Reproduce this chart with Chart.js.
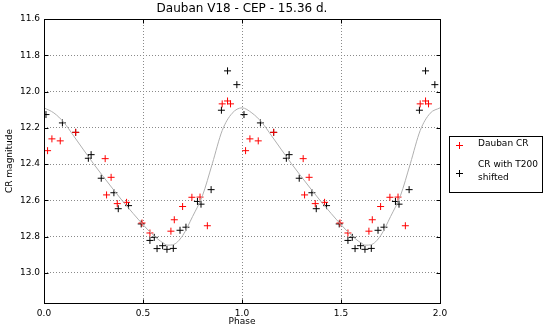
<!DOCTYPE html>
<html>
<head>
<meta charset="utf-8">
<script src="https://cdn.jsdelivr.net/npm/chart.js@4.4.1/dist/chart.umd.min.js"></script>
<style>
  html, body { margin: 0; padding: 0; background: #fff; }
  #wrap { width: 549px; height: 331px; }
</style>
</head>
<body>
<div id="wrap"><canvas id="lc"></canvas></div>
<script>
// Dauban photometry (one cycle, phase 0..1)
const redPhase = [0.018, 0.040, 0.082, 0.160, 0.309, 0.339, 0.316, 0.370, 0.417, 0.495,
                  0.535, 0.641, 0.658, 0.700, 0.747, 0.788, 0.825, 0.900, 0.927, 0.942];
const redMag   = [12.326, 12.261, 12.272, 12.225, 12.370, 12.473, 12.570, 12.618, 12.611, 12.725,
                  12.780, 12.770, 12.707, 12.634, 12.583, 12.582, 12.740, 12.068, 12.052, 12.068];

// T200 measurements, shifted
const blackPhase = [0.010, 0.093, 0.160, 0.224, 0.238, 0.289, 0.353, 0.375, 0.427, 0.491,
                    0.535, 0.557, 0.571, 0.599, 0.621, 0.653, 0.687, 0.717, 0.775, 0.793,
                    0.844, 0.896, 0.927, 0.974];
const blackMag   = [12.127, 12.173, 12.225, 12.368, 12.348, 12.478, 12.558, 12.646, 12.629, 12.730,
                    12.821, 12.804, 12.866, 12.850, 12.870, 12.865, 12.765, 12.748, 12.606, 12.621,
                    12.541, 12.103, 11.886, 11.962];

// fitted light curve, sampled over one cycle
const curvePhase = [0.00, 0.05, 0.10, 0.15, 0.20, 0.25, 0.30, 0.35, 0.40, 0.45, 0.50,
                    0.55, 0.60, 0.625, 0.65, 0.70, 0.75, 0.80, 0.85, 0.90, 0.95];
const curveMag   = [12.090, 12.118, 12.170, 12.245, 12.322, 12.398, 12.470, 12.540, 12.608, 12.672, 12.734,
                    12.790, 12.834, 12.847, 12.845, 12.795, 12.690, 12.575, 12.398, 12.215, 12.120];

const xTicks = [0.0, 0.5, 1.0, 1.5, 2.0];
const yTicks = [11.6, 11.8, 12.0, 12.2, 12.4, 12.6, 12.8, 13.0];

// two cycles for the phase plot
function twoCycles(ph, mag) {
  const pts = [];
  for (let k = 0; k < 2; k++) {
    ph.forEach((p, i) => pts.push({x: p + k, y: mag[i]}));
  }
  return pts;
}
const curvePts = twoCycles(curvePhase, curveMag);
curvePts.push({x: 2.0, y: curveMag[0]});

const FONT = 'DejaVu Sans';

const extras = {
  id: 'extras',
  afterDraw(chart) {
    const {ctx, chartArea: a, scales: {x, y}} = chart;
    ctx.save();
    ctx.strokeStyle = '#000';
    ctx.lineWidth = 1;
    const L = Math.round(a.left) + 0.5, R = Math.round(a.right) + 0.5;
    const T = Math.round(a.top) + 0.5, B = Math.round(a.bottom) + 0.5;
    ctx.strokeRect(L, T, R - L, B - T);

    // inward tick marks on all four sides
    ctx.beginPath();
    xTicks.forEach(v => {
      const px = Math.round(x.getPixelForValue(v)) + 0.5;
      ctx.moveTo(px, B); ctx.lineTo(px, B - 4);
      ctx.moveTo(px, T); ctx.lineTo(px, T + 4);
    });
    yTicks.forEach(v => {
      const py = Math.round(y.getPixelForValue(v)) + 0.5;
      ctx.moveTo(L, py); ctx.lineTo(L + 4, py);
      ctx.moveTo(R, py); ctx.lineTo(R - 4, py);
    });
    ctx.stroke();

    ctx.fillStyle = '#000';
    ctx.textAlign = 'center';
    ctx.textBaseline = 'middle';
    ctx.font = '12px "' + FONT + '"';
    ctx.fillText('Dauban V18 - CEP - 15.36 d.', (a.left + a.right) / 2, 9);

    ctx.font = '9px "' + FONT + '"';
    ctx.fillText('Phase', (a.left + a.right) / 2, 322);
    ctx.save();
    ctx.translate(10, (a.top + a.bottom) / 2);
    ctx.rotate(-Math.PI / 2);
    ctx.fillText('CR magnitude', 0, 0);
    ctx.restore();

    // legend
    const lx = 449.5, ly = 136.5, lw = 93, lh = 56;
    ctx.fillStyle = '#fff';
    ctx.fillRect(lx, ly, lw, lh);
    ctx.strokeStyle = '#000';
    ctx.strokeRect(lx, ly, lw, lh);
    const plus = (cx, cy, col) => {
      ctx.strokeStyle = col;
      ctx.beginPath();
      ctx.moveTo(cx - 3.5, cy); ctx.lineTo(cx + 3.5, cy);
      ctx.moveTo(cx, cy - 3.5); ctx.lineTo(cx, cy + 3.5);
      ctx.stroke();
    };
    plus(459.5, 145.5, '#ff0000');
    plus(459.5, 173.5, '#000000');
    ctx.fillStyle = '#000';
    ctx.textAlign = 'left';
    ctx.fillText('Dauban CR', 478, 144);
    ctx.fillText('CR with T200', 478, 165);
    ctx.fillText('shifted', 478, 177.5);
    ctx.restore();
  }
};

const gridOpts = { color: '#8a8a8a', drawTicks: false, lineWidth: 1 };
const borderOpts = { display: false, dash: [1, 2] };

new Chart(document.getElementById('lc'), {
  type: 'scatter',
  data: {
    datasets: [
      {
        label: 'fit',
        type: 'line',
        data: curvePts,
        borderColor: '#b0b0b0',
        borderWidth: 1,
        pointRadius: 0,
        cubicInterpolationMode: 'monotone',
        fill: false
      },
      {
        label: 'Dauban CR',
        data: twoCycles(redPhase, redMag),
        pointStyle: 'cross',
        pointRadius: 3.5,
        borderColor: '#ff0000',
        borderWidth: 1
      },
      {
        label: 'CR with T200 shifted',
        data: twoCycles(blackPhase, blackMag),
        pointStyle: 'cross',
        pointRadius: 3.5,
        borderColor: '#000000',
        borderWidth: 1
      }
    ]
  },
  options: {
    responsive: true,
    maintainAspectRatio: false,
    animation: false,
    layout: { padding: { left: 0, top: 19, right: 109, bottom: 0 } },
    plugins: { legend: { display: false }, tooltip: { enabled: false } },
    scales: {
      x: {
        type: 'linear',
        min: 0, max: 2,
        afterBuildTicks: s => { s.ticks = xTicks.map(v => ({value: v})); },
        afterFit: s => { s.height = 28; },
        grid: gridOpts,
        border: borderOpts,
        ticks: { color: '#000', padding: 5, font: { family: FONT, size: 9 },
                 callback: v => v.toFixed(1) }
      },
      y: {
        type: 'linear',
        reverse: true,
        min: 11.6, max: 13.166,
        afterBuildTicks: s => { s.ticks = yTicks.map(v => ({value: v})); },
        afterFit: s => { s.width = 44; },
        grid: gridOpts,
        border: borderOpts,
        ticks: { color: '#000', padding: 4, font: { family: FONT, size: 9 },
                 callback: v => v.toFixed(1) }
      }
    }
  },
  plugins: [extras]
});
</script>
</body>
</html>
